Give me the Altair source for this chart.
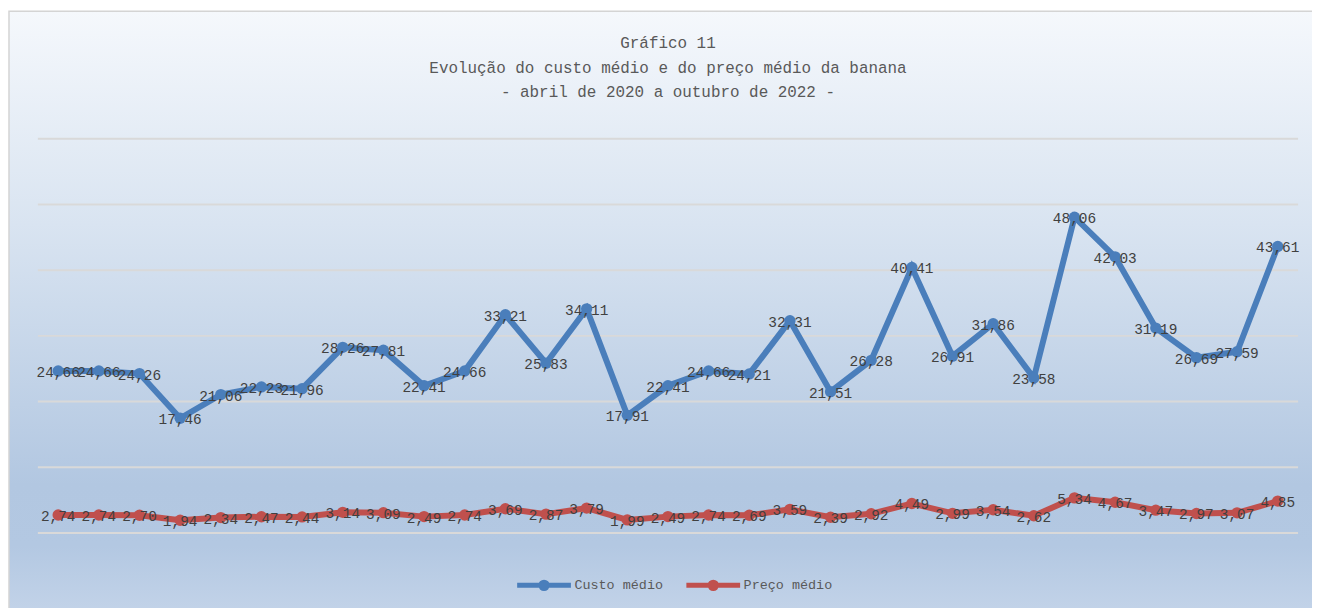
import altair as alt
import pandas as pd

months = ["abr/20", "mai", "jun", "jul", "ago", "set", "out", "nov", "dez",
          "jan/21", "fev", "mar", "abr", "mai", "jun", "jul", "ago", "set",
          "out", "nov", "dez", "jan/22", "fev", "mar", "abr", "mai", "jun",
          "jul", "ago", "set", "out"]
custo = [24.66, 24.66, 24.26, 17.46, 21.06, 22.23, 21.96, 28.26, 27.81, 22.41,
         24.66, 33.21, 25.83, 34.11, 17.91, 22.41, 24.66, 24.21, 32.31, 21.51,
         26.28, 40.41, 26.91, 31.86, 23.58, 48.06, 42.03, 31.19, 26.69, 27.59,
         43.61]
preco = [2.74, 2.74, 2.70, 1.94, 2.34, 2.47, 2.44, 3.14, 3.09, 2.49, 2.74,
         3.69, 2.87, 3.79, 1.99, 2.49, 2.74, 2.69, 3.59, 2.39, 2.92, 4.49,
         2.99, 3.54, 2.62, 5.34, 4.67, 3.47, 2.97, 3.07, 4.85]
series_names = ["Custo médio", "Preço médio"]
series_colors = ["#4a7ebb", "#c0504d"]
grid_values = [0, 10, 20, 30, 40, 50, 60]

FONT = "Liberation Mono"
W, H = 1266, 396
PAD = {"left": 30, "top": 130, "right": 14, "bottom": 76}

rows = []
for name, vals in zip(series_names, [custo, preco]):
    for i, v in enumerate(vals):
        rows.append({"idx": i, "serie": name, "valor": v,
                     "rotulo": f"{v:.2f}".replace(".", ",")})
df = pd.DataFrame(rows)

label_expr = "[" + ",".join(f"'{m}'" for m in months) + "][datum.value]"

x_enc = alt.X("idx:O", scale=alt.Scale(padding=0.5),
              axis=alt.Axis(title=None, labelExpr=label_expr, labelAngle=0,
                            labelFont=FONT, labelFontSize=9,
                            labelColor="#7f7f7f", domain=False, ticks=False,
                            grid=False, labelPadding=7))
y_enc = alt.Y("valor:Q", scale=alt.Scale(domain=[0, 60], nice=False),
              axis=None)
color_enc = alt.Color("serie:N",
                      scale=alt.Scale(domain=series_names, range=series_colors),
                      legend=alt.Legend(
                          title=None, orient="none", direction="horizontal",
                          legendX=479, legendY=419,
                          symbolType="M-1,0H1M-0.12,0a0.12,0.12 0 1,0 0.24,0a0.12,0.12 0 1,0 -0.24,0",
                          symbolSize=2916, symbolStrokeWidth=5,
                          labelFont=FONT, labelFontSize=13.5, labelColor="#595959",
                          labelOffset=1, columnPadding=12))

bg = alt.Chart(pd.DataFrame({"a": [0]})).mark_rect(
    fill=alt.LinearGradient(
        gradient="linear", x1=0, y1=0, x2=0, y2=1,
        stops=[alt.GradientStop(offset=0, color="#f5f8fc"),
               alt.GradientStop(offset=0.35, color="#d9e4f1"),
               alt.GradientStop(offset=0.78, color="#b2c7e1"),
               alt.GradientStop(offset=0.88, color="#b3c8e2"),
               alt.GradientStop(offset=1, color="#c4d4e9")]),
    stroke="#d4d4d4", strokeWidth=1.5
).encode(x=alt.value(-29), x2=alt.value(W + PAD["right"] + 10),
         y=alt.value(-128), y2=alt.value(H + PAD["bottom"] + 10))

grid = alt.Chart(pd.DataFrame({"g": grid_values})).mark_rule(
    color="#d9d9d9", strokeWidth=2
).encode(y=alt.Y("g:Q", scale=alt.Scale(domain=[0, 60], nice=False), axis=None))

lines = alt.Chart(df).mark_line(strokeWidth=6, opacity=1).encode(
    x=x_enc, y=y_enc, color=color_enc)
points = alt.Chart(df).mark_point(filled=True, size=130, opacity=1).encode(
    x=x_enc, y=y_enc, color=color_enc)
labels = alt.Chart(df).mark_text(font=FONT, fontSize=14.5, color="#404040",
                                 align="center", baseline="middle", dy=2).encode(
    x=x_enc, y=y_enc, text="rotulo:N")

chart = alt.layer(bg, grid, lines, points, labels).properties(
    width=W, height=H,
    title=alt.Title(["Gráfico 11",
                     "Evolução do custo médio e do preço médio da banana",
                     "- abril de 2020 a outubro de 2022 -"],
                    font=FONT, fontSize=16, fontWeight="normal",
                    color="#595959", anchor="middle", offset=-90,
                    lineHeight=24.5),
    autosize=alt.AutoSizeParams(type="none"),
    padding=PAD,
).configure_view(stroke=None)

chart.save("out.html", embed_options={"renderer": "svg", "actions": False})
